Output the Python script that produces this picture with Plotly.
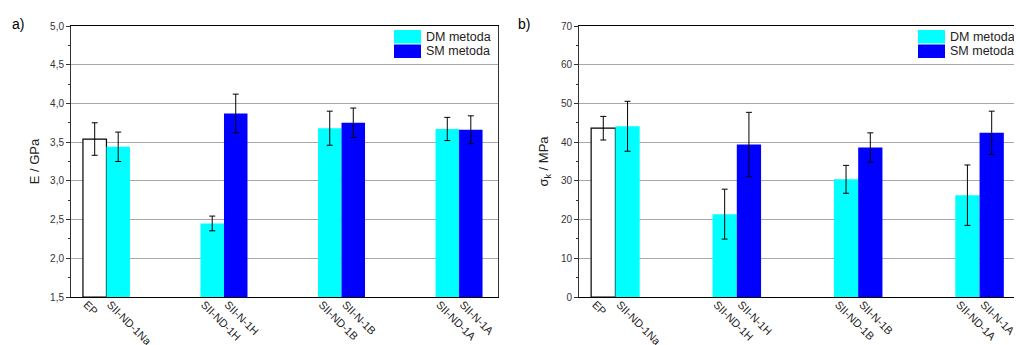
import plotly.graph_objects as go
from plotly.subplots import make_subplots

# ---- data ----
labels = ["EP", "SII-ND-1Na", "SII-ND-1H", "SII-N-1H", "SII-ND-1B", "SII-N-1B", "SII-ND-1A", "SII-N-1A"]
positions = [0, 1, 5, 6, 10, 11, 15, 16]

# modulus E / GPa
E_ep = [3.54]
E_ep_err = [0.21]
E_dm = [3.44, 2.45, 3.68, 3.67]
E_dm_err = [0.19, 0.095, 0.22, 0.15]
E_sm = [3.87, 3.75, 3.66]
E_sm_err = [0.25, 0.19, 0.18]

# strength sigma_k / MPa
S_ep = [43.6]
S_ep_err = [3.05]
S_dm = [44.1, 21.4, 30.4, 26.3]
S_dm_err = [6.45, 6.45, 3.6, 7.8]
S_sm = [39.4, 38.6, 42.4]
S_sm_err = [8.3, 3.8, 5.6]

pos_ep = [0]
pos_dm = [1, 5, 10, 15]
pos_sm = [6, 11, 16]

CYAN = "#00FFFF"
BLUE = "#0000FF"
FONT = "Liberation Sans, Arial, sans-serif"

# page has an 8px body margin; figure sized to fill the remaining window
OFF = 8
W, H = 1022 - OFF, 345 - OFF
def fx(p):
    return (p - OFF) / W
def fy(p):
    return 1 - (p - OFF) / H

fig = make_subplots(rows=1, cols=2)

def err(vals):
    return dict(type="data", array=vals, visible=True, color="black", thickness=1, width=3)

for col, (ep, epe, dm, dme, sm, sme) in enumerate(
        [(E_ep, E_ep_err, E_dm, E_dm_err, E_sm, E_sm_err),
         (S_ep, S_ep_err, S_dm, S_dm_err, S_sm, S_sm_err)], start=1):
    base = 1.5 if col == 1 else 0
    fig.add_trace(go.Bar(x=pos_ep, y=[v - base for v in ep], base=base, width=1,
                         marker=dict(color="white", line=dict(color="black", width=1.2)),
                         error_y=err(epe), showlegend=False), row=1, col=col)
    fig.add_trace(go.Bar(x=pos_dm, y=[v - base for v in dm], base=base, width=1,
                         marker=dict(color=CYAN, line=dict(width=0)),
                         error_y=err(dme), name="DM metoda", showlegend=False), row=1, col=col)
    fig.add_trace(go.Bar(x=pos_sm, y=[v - base for v in sm], base=base, width=1,
                         marker=dict(color=BLUE, line=dict(width=0)),
                         error_y=err(sme), name="SM metoda", showlegend=False), row=1, col=col)

dom_y = [fy(297), fy(26)]
dom_x1 = [fx(71), fx(498.3)]
dom_x2 = [fx(579), fx(1016.7)]

xcommon = dict(tickmode="array", tickvals=positions, ticktext=labels, tickangle=45,
               showline=True, linecolor="black", linewidth=1, mirror=True,
               ticks="", showgrid=False, zeroline=False, automargin=False,
               ticklabelshift=-8, ticklabelstandoff=-4,
               tickfont=dict(family=FONT, size=11, color="#222"))
ycommon = dict(showline=True, linecolor="#333", linewidth=1, mirror=True,
               ticks="outside", ticklen=4, tickwidth=1, tickcolor="#333",
               showgrid=True, gridcolor="#A8A8A8", gridwidth=1, zeroline=False,
               automargin=False,
               tickfont=dict(family=FONT, size=10, color="#333"),
               title_font=dict(family=FONT, size=13, color="#222"))

fig.update_xaxes(xcommon)
fig.update_yaxes(ycommon)
fig.update_layout(
    xaxis=dict(domain=dom_x1, range=[-1.008, 17.17]),
    xaxis2=dict(domain=dom_x2, range=[-1.0, 17.03]),
    yaxis=dict(domain=dom_y, range=[1.5, 5.0], dtick=0.5, tickformat=".1f",
               title=dict(text="E / GPa", standoff=7),
               minor=dict(ticks="outside", ticklen=2, dtick=0.25, tickcolor="#333", showgrid=False)),
    yaxis2=dict(domain=dom_y, range=[0, 70], dtick=10,
                title=dict(text="σ<sub>k</sub> / MPa", standoff=9),
                minor=dict(ticks="outside", ticklen=2, dtick=5, tickcolor="#333", showgrid=False)),
)

# custom legends (boxes + text)
legends = [(394, 421, 424), (918, 945, 948)]
for x0, x1, xt in legends:
    for (y0, y1, col, txt) in [(30, 43.5, CYAN, "DM metoda"), (44.5, 58, BLUE, "SM metoda")]:
        fig.add_shape(type="rect", xref="paper", yref="paper",
                      x0=fx(x0), x1=fx(x1), y0=fy(y1), y1=fy(y0),
                      fillcolor=col, line=dict(width=0))
        fig.add_annotation(xref="paper", yref="paper", x=fx(xt), y=fy((y0 + y1) / 2),
                           text=txt, showarrow=False, xanchor="left", yanchor="middle",
                           font=dict(family=FONT, size=12.5, color="#222"))

for txt, xp in [("a)", 10), ("b)", 516)]:
    fig.add_annotation(xref="paper", yref="paper", x=fx(xp), y=fy(24), text=txt,
                       showarrow=False, xanchor="left", yanchor="middle",
                       font=dict(family=FONT, size=14, color="black"))

fig.update_layout(width=W, height=H, margin=dict(l=0, r=0, t=0, b=0, autoexpand=False),
                  plot_bgcolor="white", paper_bgcolor="white",
                  separators=", ", barmode="overlay", showlegend=False,
                  font=dict(family=FONT))

fig.write_html("out.html")
